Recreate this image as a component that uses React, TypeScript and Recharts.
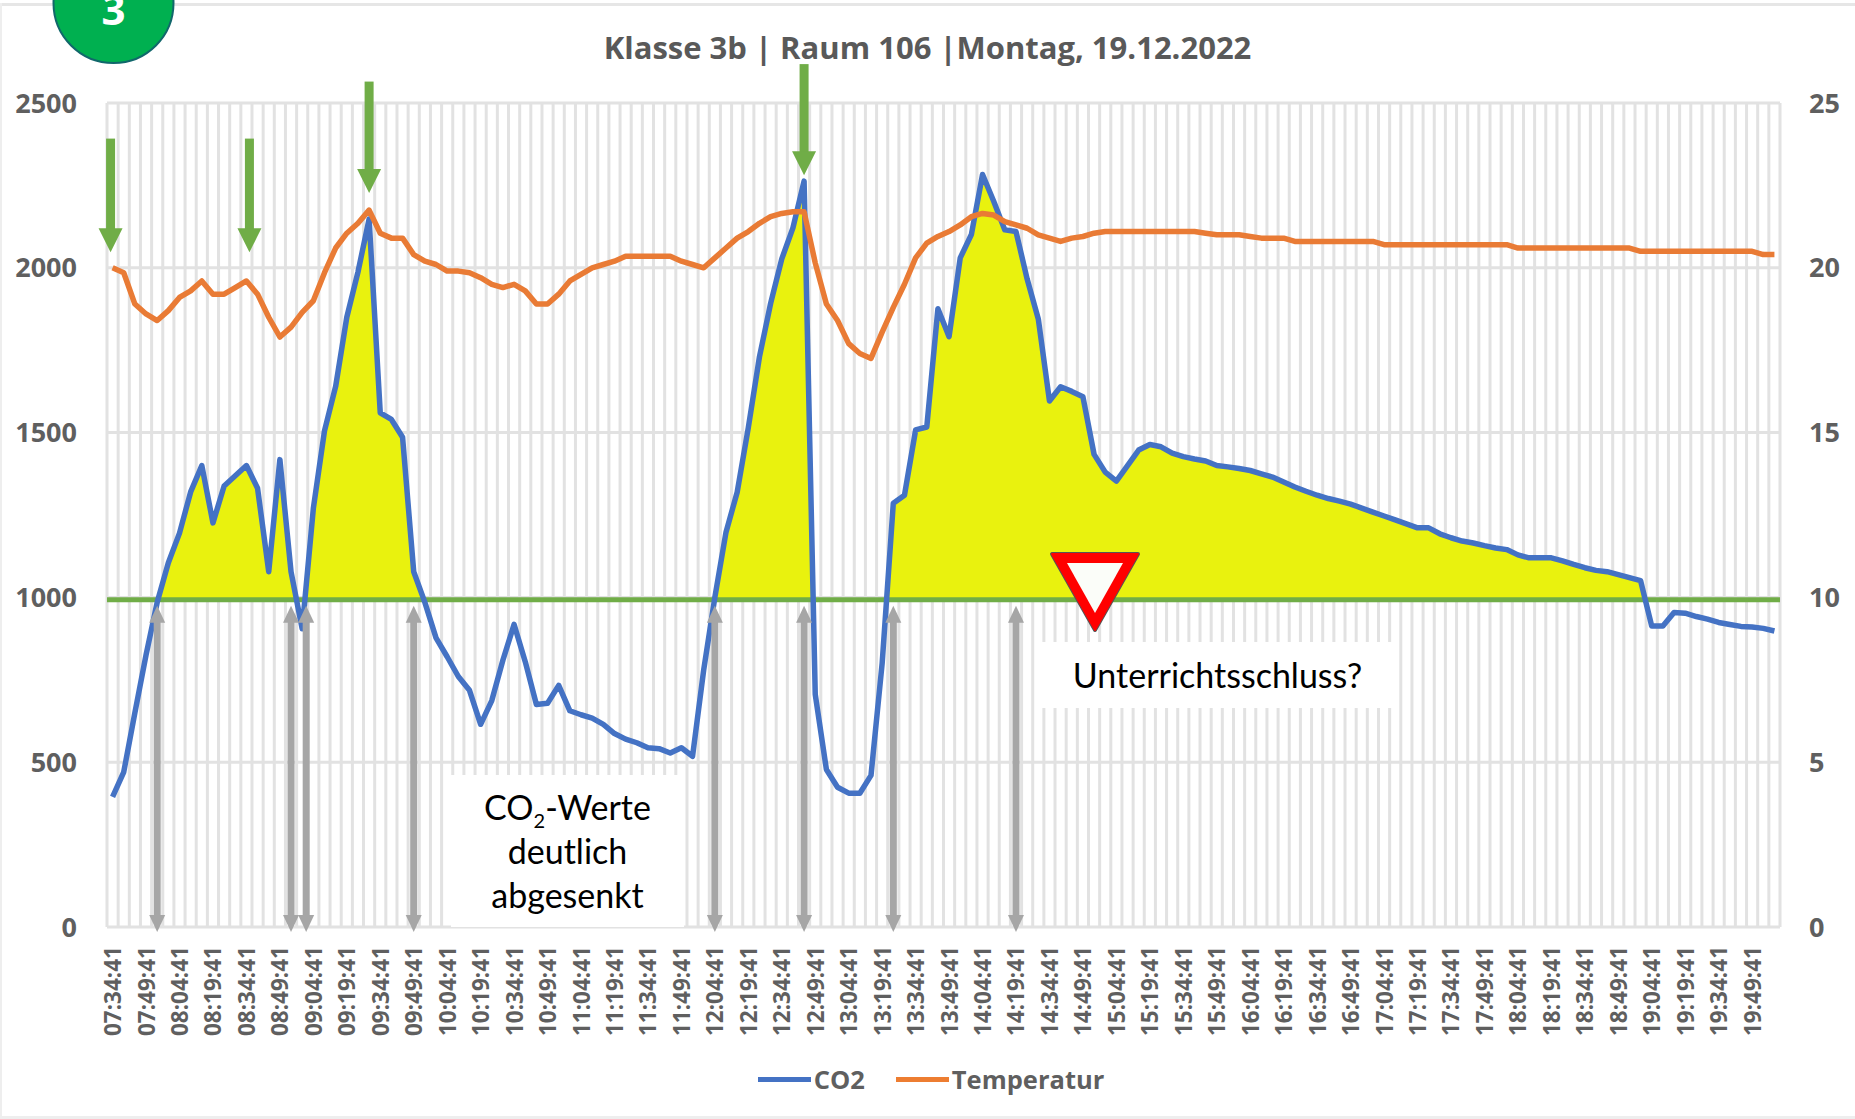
import { Area, CartesianGrid, ComposedChart, Legend, Line, ReferenceLine, XAxis, YAxis } from "recharts";

const times = [
  "07:34:41", "07:39:41", "07:44:41", "07:49:41", "07:54:41", "07:59:41",
  "08:04:41", "08:09:41", "08:14:41", "08:19:41", "08:24:41", "08:29:41", "08:34:41", "08:39:41", "08:44:41", "08:49:41", "08:54:41", "08:59:41",
  "09:04:41", "09:09:41", "09:14:41", "09:19:41", "09:24:41", "09:29:41", "09:34:41", "09:39:41", "09:44:41", "09:49:41", "09:54:41", "09:59:41",
  "10:04:41", "10:09:41", "10:14:41", "10:19:41", "10:24:41", "10:29:41", "10:34:41", "10:39:41", "10:44:41", "10:49:41", "10:54:41", "10:59:41",
  "11:04:41", "11:09:41", "11:14:41", "11:19:41", "11:24:41", "11:29:41", "11:34:41", "11:39:41", "11:44:41", "11:49:41", "11:54:41", "11:59:41",
  "12:04:41", "12:09:41", "12:14:41", "12:19:41", "12:24:41", "12:29:41", "12:34:41", "12:39:41", "12:44:41", "12:49:41", "12:54:41", "12:59:41",
  "13:04:41", "13:09:41", "13:14:41", "13:19:41", "13:24:41", "13:29:41", "13:34:41", "13:39:41", "13:44:41", "13:49:41", "13:54:41", "13:59:41",
  "14:04:41", "14:09:41", "14:14:41", "14:19:41", "14:24:41", "14:29:41", "14:34:41", "14:39:41", "14:44:41", "14:49:41", "14:54:41", "14:59:41",
  "15:04:41", "15:09:41", "15:14:41", "15:19:41", "15:24:41", "15:29:41", "15:34:41", "15:39:41", "15:44:41", "15:49:41", "15:54:41", "15:59:41",
  "16:04:41", "16:09:41", "16:14:41", "16:19:41", "16:24:41", "16:29:41", "16:34:41", "16:39:41", "16:44:41", "16:49:41", "16:54:41", "16:59:41",
  "17:04:41", "17:09:41", "17:14:41", "17:19:41", "17:24:41", "17:29:41", "17:34:41", "17:39:41", "17:44:41", "17:49:41", "17:54:41", "17:59:41",
  "18:04:41", "18:09:41", "18:14:41", "18:19:41", "18:24:41", "18:29:41", "18:34:41", "18:39:41", "18:44:41", "18:49:41", "18:54:41", "18:59:41",
  "19:04:41", "19:09:41", "19:14:41", "19:19:41", "19:24:41", "19:29:41", "19:34:41", "19:39:41", "19:44:41", "19:49:41", "19:54:41", "19:59:41",
];

const co2 = [
  395, 470, 650, 825, 985, 1105, 1195, 1320, 1400, 1226,
  1338, 1369, 1400, 1331, 1078, 1418, 1078, 905, 1270, 1505,
  1640, 1850, 1987, 2148, 1560, 1540, 1486, 1078, 985, 877,
  820, 760, 718, 615, 687, 810, 918, 805, 675, 679,
  733, 656, 644, 634, 615, 587, 570, 559, 544, 541,
  528, 544, 518, 780, 1000, 1198, 1319, 1515, 1730, 1892,
  2027, 2121, 2263, 706, 478, 424, 406, 406, 460, 800,
  1286, 1310, 1508, 1517, 1876, 1791, 2030, 2101, 2283, 2202,
  2115, 2110, 1966, 1845, 1596, 1639, 1625, 1609, 1434, 1380,
  1353, 1400, 1447, 1464, 1457, 1438, 1427, 1420, 1414, 1400,
  1396, 1391, 1385, 1375, 1365, 1350, 1335, 1322, 1310, 1300,
  1292, 1283, 1271, 1259, 1247, 1235, 1223, 1211, 1211, 1193,
  1181, 1171, 1165, 1157, 1150, 1145, 1129, 1120, 1120, 1120,
  1111, 1100, 1090, 1082, 1078, 1069, 1060, 1051, 913, 913,
  954, 952, 942, 934, 924, 918, 912, 910, 906, 898,
];

const temperatur = [
  20, 19.85, 18.9, 18.6, 18.4, 18.7, 19.1, 19.3, 19.6, 19.2,
  19.2, 19.4, 19.6, 19.2, 18.5, 17.9, 18.2, 18.65, 19, 19.85,
  20.6, 21.05, 21.35, 21.75, 21.05, 20.9, 20.9, 20.4, 20.2, 20.1,
  19.9, 19.9, 19.85, 19.7, 19.5, 19.4, 19.5, 19.3, 18.9, 18.9,
  19.2, 19.6, 19.8, 20, 20.1, 20.2, 20.35, 20.35, 20.35, 20.35,
  20.35, 20.2, 20.1, 20, 20.3, 20.6, 20.9, 21.1, 21.35, 21.55,
  21.65, 21.7, 21.7, 20.15, 18.9, 18.4, 17.7, 17.4, 17.25, 18.05,
  18.8, 19.5, 20.3, 20.75, 20.95, 21.1, 21.3, 21.55, 21.65, 21.6,
  21.4, 21.3, 21.2, 21, 20.9, 20.8, 20.9, 20.95, 21.05, 21.1,
  21.1, 21.1, 21.1, 21.1, 21.1, 21.1, 21.1, 21.1, 21.05, 21,
  21, 21, 20.95, 20.9, 20.9, 20.9, 20.8, 20.8, 20.8, 20.8,
  20.8, 20.8, 20.8, 20.8, 20.7, 20.7, 20.7, 20.7, 20.7, 20.7,
  20.7, 20.7, 20.7, 20.7, 20.7, 20.7, 20.6, 20.6, 20.6, 20.6,
  20.6, 20.6, 20.6, 20.6, 20.6, 20.6, 20.6, 20.5, 20.5, 20.5,
  20.5, 20.5, 20.5, 20.5, 20.5, 20.5, 20.5, 20.5, 20.4, 20.4,
];

const co2Ticks = [0, 500, 1000, 1500, 2000, 2500];
const tempTicks = [0, 5, 10, 15, 20, 25];

// arrows: category index, start and tip read on the CO2 axis
const greyArrows = [4, 16, 17, 27, 54, 62, 70, 81];
const greyDx = [0, 0, 4, 0, 0, 0, 0, 0];
const greenArrows = [0, 12, 23, 62];
const greenDx = [-2, 3, 0, 0];
const greenTop = [2392, 2392, 2565, 2618];
const greenTip = [2047, 2047, 2227, 2281];

// the drawn limit line sits a touch under the 1000 gridline in the source
const LIMIT = 993;

const data = times.map((time, i) => ({ time, co2: co2[i], temperatur: temperatur[i] }));

const GRID = "#e2e2e2";
const AXIS_TEXT = "#5f5f5f";
const PLOT = { left: 107, right: 75, top: 103, bottom: 192 };
const FONT = '"Open Sans", sans-serif';
const NOTE_FONT = 'Lato, "Noto Sans", sans-serif';

function TimeTick({ x, y, payload }: any) {
  return (
    <text
      x={x}
      y={y}
      transform={`rotate(-90 ${x} ${y})`}
      textAnchor="end"
      dominantBaseline="central"
      fill={AXIS_TEXT}
      fontFamily={FONT}
      fontWeight={700}
      fontSize={22.5}
    >
      {payload.value}
    </text>
  );
}

function greyArrow(dx: number) {
  return ({ x1, y1, y2 }: any) => {
    const x = x1 + dx;
    return (
      <g fill="#a6a6a6">
        <rect x={x - 3.5} y={y1 + 12} width={7} height={y2 - y1 - 24} />
        <polygon points={`${x},${y1} ${x - 8},${y1 + 17} ${x + 8},${y1 + 17}`} />
        <polygon points={`${x},${y2} ${x - 8},${y2 - 17} ${x + 8},${y2 - 17}`} />
      </g>
    );
  };
}

function greenArrow(dx: number) {
  return ({ x1, y1, y2 }: any) => {
    const x = x1 + dx;
    return (
      <g fill="#70ad47">
        <rect x={x - 4.5} y={y1} width={9} height={y2 - y1 - 20} />
        <polygon points={`${x},${y2} ${x - 12},${y2 - 24} ${x + 12},${y2 - 24}`} />
      </g>
    );
  };
}

function ChartLegend() {
  const items = [
    { label: "CO2", color: "#4472c4" },
    { label: "Temperatur", color: "#ed7d31" },
  ];
  return (
    <div style={{ display: "flex", justifyContent: "center", alignItems: "center", gap: 31, height: 60, marginLeft: 7 }}>
      {items.map((item) => (
        <div key={item.label} style={{ display: "flex", alignItems: "center", gap: 3 }}>
          <div style={{ width: 53, height: 5, background: item.color }} />
          <span style={{ fontFamily: FONT, fontWeight: 700, fontSize: 25.5, color: AXIS_TEXT }}>{item.label}</span>
        </div>
      ))}
    </div>
  );
}

function NoteBox({ left, top, width, height, children }: any) {
  return (
    <div
      style={{
        position: "absolute",
        left,
        top,
        width,
        height,
        background: "#fff",
        display: "flex",
        flexDirection: "column",
        alignItems: "center",
        justifyContent: "center",
        fontFamily: NOTE_FONT,
        fontSize: 34,
        lineHeight: "44px",
        color: "#000",
        textAlign: "center",
      }}
    >
      {children}
    </div>
  );
}

export default function App() {
  return (
    <div style={{ position: "absolute", left: 0, top: 0, width: 1855, height: 1119, background: "#fff", overflow: "hidden" }}>
      <div style={{ position: "absolute", left: 0, top: 3, width: 1855, height: 3, background: "#e6e6e6" }} />
      <div style={{ position: "absolute", left: 0, top: 3, width: 2, height: 1116, background: "#eeeeee" }} />
      <div style={{ position: "absolute", left: 0, top: 1116, width: 1855, height: 3, background: "#eeeeee" }} />

      <ComposedChart
        width={1855}
        height={1119}
        data={data}
        margin={{ top: PLOT.top, right: 0, left: 0, bottom: 10 }}
        style={{ position: "absolute", left: 0, top: 0 }}
      >
        <defs>
          <linearGradient id="overLimit" gradientUnits="userSpaceOnUse" x1="0" y1={PLOT.top} x2="0" y2={927}>
            <stop offset={1 - LIMIT / 2500} stopColor="#e9f20e" />
            <stop offset={1 - LIMIT / 2500} stopColor="#e9f20e" stopOpacity={0} />
          </linearGradient>
        </defs>
        <CartesianGrid
          stroke={GRID}
          strokeWidth={3}
          verticalCoordinatesGenerator={({ offset }: any) =>
            times.concat("").map((_, i) => offset.left + (i * offset.width) / times.length)
          }
        />
        <XAxis
          dataKey="time"
          scale="band"
          interval={2}
          axisLine={false}
          tickLine={false}
          tickSize={0}
          tickMargin={19}
          height={122}
          tick={<TimeTick />}
        />
        <YAxis
          width={PLOT.left}
          domain={[0, 2500]}
          ticks={co2Ticks}
          axisLine={false}
          tickLine={false}
          tickSize={0}
          tickMargin={30}
          tick={{ fill: AXIS_TEXT, fontFamily: FONT, fontWeight: 700, fontSize: 27 }}
        />
        <YAxis
          yAxisId="right"
          orientation="right"
          width={PLOT.right}
          domain={[0, 25]}
          ticks={tempTicks}
          axisLine={false}
          tickLine={false}
          tickSize={0}
          tickMargin={29}
          tick={{ fill: AXIS_TEXT, fontFamily: FONT, fontWeight: 700, fontSize: 27 }}
        />
        <Area
          dataKey="co2"
          type="linear"
          stroke="none"
          fill="url(#overLimit)"
          fillOpacity={1}
          legendType="none"
          isAnimationActive={false}
        />
        <ReferenceLine y={LIMIT} stroke="#70ad47" strokeWidth={5} />
        <Line dataKey="co2" name="CO2" type="linear" stroke="#4472c4" strokeWidth={5.5} strokeLinejoin="round" dot={false} isAnimationActive={false} />
        <Line dataKey="temperatur" name="Temperatur" yAxisId="right" type="linear" stroke="#e97b35" strokeWidth={5.5} strokeLinejoin="round" dot={false} isAnimationActive={false} />
        {greyArrows.map((idx, i) => (
          <ReferenceLine
            key={`grey-${idx}`}
            ifOverflow="visible"
            segment={[{ x: times[idx], y: 975 }, { x: times[idx], y: -15 }]}
            shape={greyArrow(greyDx[i])}
          />
        ))}
        {greenArrows.map((idx, i) => (
          <ReferenceLine
            key={`green-${idx}`}
            ifOverflow="visible"
            segment={[{ x: times[idx], y: greenTop[i] }, { x: times[idx], y: greenTip[i] }]}
            shape={greenArrow(greenDx[i])}
          />
        ))}
        <Legend verticalAlign="bottom" height={60} content={<ChartLegend />} />
      </ComposedChart>

      <div
        style={{
          position: "absolute",
          left: 0,
          width: 1855,
          top: 26,
          textAlign: "center",
          fontFamily: FONT,
          fontWeight: 700,
          fontSize: 31,
          lineHeight: "42px",
          color: "#595959",
          whiteSpace: "pre",
        }}
      >
        {"Klasse 3b | Raum 106 |Montag, 19.12.2022"}
      </div>

      <NoteBox left={451} top={775} width={233} height={152}>
        <div>
          CO<sub style={{ fontSize: 20, lineHeight: 0 }}>2</sub>-Werte
        </div>
        <div>deutlich</div>
        <div>abgesenkt</div>
      </NoteBox>
      <NoteBox left={1041} top={642} width={353} height={66}>
        Unterrichtsschluss?
      </NoteBox>

      <svg width={1855} height={1119} style={{ position: "absolute", left: 0, top: 0, pointerEvents: "none" }}>
        <circle cx={113.5} cy={3} r={60} fill="#00b050" stroke="#11676b" strokeWidth={2} />
        <text x={113.5} y={25} textAnchor="middle" fill="#fff" fontFamily={FONT} fontWeight={700} fontSize={42}>
          3
        </text>
        <polygon points="1052,554 1138,554 1095,630" fill="#ff0000" stroke="#555" strokeWidth={4} strokeLinejoin="round" />
        <polygon points="1052,554 1138,554 1095,630" fill="#ff0000" stroke="#ff0000" strokeWidth={2} strokeLinejoin="round" />
        <polygon points="1067,563 1123,563 1095,613" fill="#fbfdf9" />
      </svg>
    </div>
  );
}
